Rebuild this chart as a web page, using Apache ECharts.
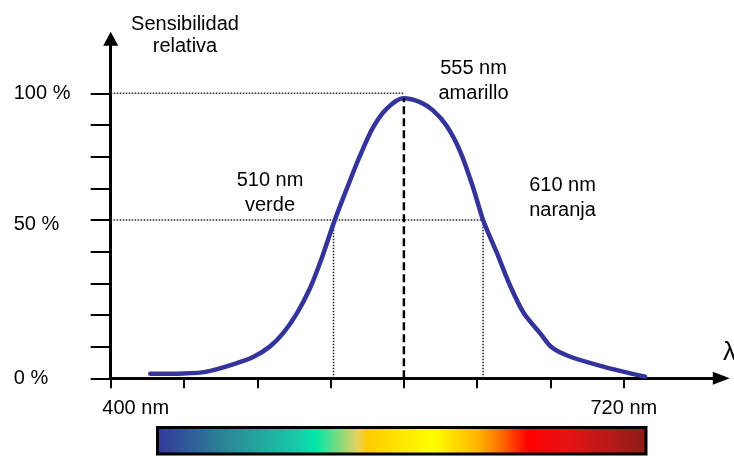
<!DOCTYPE html>
<html><head><meta charset="utf-8">
<script src="https://cdn.jsdelivr.net/npm/echarts@6/dist/echarts.min.js"></script>
<style>html,body{margin:0;padding:0;background:#fff}#c{width:734px;height:456px}</style>
</head><body><div id="c"></div>
<script>
// Schematic axes: x in tick units (tick 0 = "400 nm", tick 7 = "720 nm"),
// y in tick units (tick 0 = "0 %", tick 5 = "50 %", tick 9 = "100 %")
const wavelengthPos = [0.54, 0.99, 1.31, 1.67, 1.95, 2.17, 2.35, 2.54, 2.72, 2.88, 3.05, 3.22, 3.40, 3.58, 3.77, 3.99, 4.22, 4.40, 4.58, 4.77, 4.95, 5.08, 5.27, 5.45, 5.63, 5.86, 6.02, 6.27, 6.72, 7.29];
const sensitivity   = [0.14, 0.15, 0.21, 0.44, 0.68, 1.00, 1.42, 2.05, 2.85, 3.80, 4.95, 5.98, 7.02, 7.92, 8.52, 8.84, 8.72, 8.45, 7.98, 7.15, 5.98, 5.00, 3.95, 2.92, 2.08, 1.42, 0.97, 0.68, 0.37, 0.05];
const xTickValues = [0, 1, 2, 3, 4, 5, 6, 7];
const xLabelValues = [0, 7];
const xLabelTexts = ['400 nm', '720 nm'];
const yTickValues = [0, 1, 2, 3, 4, 5, 6, 7, 8, 9];
const yLabelValues = [0, 5, 9];
const yLabelTexts = ['0 %', '50 %', '100 %'];
const markerPos = [3.04, 4, 5.08];            // 510 nm, 555 nm, 610 nm
const markerTexts = ['510 nm\nverde', '555 nm\namarillo', '610 nm\nnaranja'];
const halfLevel = 5;
const fullLevel = 9;
const yTitle = 'Sensibilidad\nrelativa';

const FONT = "'Liberation Sans', Arial, sans-serif";
const peakValue = Math.max(...sensitivity);
const dotted = {color: '#222', width: 1.5, type: [1.5, 1.5]};

const chart = echarts.init(document.getElementById('c'), null, {renderer: 'canvas'});
chart.setOption({
  animation: false,
  backgroundColor: '#fff',
  grid: {left: 110.7, right: 12.7, top: 38.8, bottom: 77.7, containLabel: false},
  xAxis: {
    type: 'value', min: 0, max: 8.33, interval: 1,
    splitLine: {show: false},
    axisLine: {lineStyle: {color: '#000', width: 3}, symbol: ['none', 'triangle'], symbolSize: [13, 17]},
    axisTick: {show: true, inside: false, length: 10, lineStyle: {color: '#000', width: 2}, customValues: xTickValues},
    axisLabel: {
      customValues: xLabelValues, margin: 20, color: '#000', fontSize: 20, fontFamily: FONT,
      formatter: v => {
        const i = xLabelValues.indexOf(v);
        if (i < 0) return '';
        return i === 0 ? '{s|' + xLabelTexts[i] + '}' : xLabelTexts[i];
      },
      rich: {s: {padding: [0, 0, 0, 50], fontSize: 20, fontFamily: FONT, color: '#000'}}
    }
  },
  yAxis: {
    type: 'value', min: 0, max: 10.72, interval: 1,
    splitLine: {show: false},
    axisLine: {lineStyle: {color: '#000', width: 3}, symbol: ['none', 'triangle'], symbolSize: [15, 14]},
    axisTick: {show: true, inside: false, length: 20, lineStyle: {color: '#000', width: 2}, customValues: yTickValues},
    axisLabel: {
      customValues: yLabelValues, margin: 97, align: 'left', color: '#000', fontSize: 20, fontFamily: FONT,
      formatter: v => {
        const i = yLabelValues.indexOf(v);
        if (i < 0) return '';
        return i === 1 ? '{m|' + yLabelTexts[i] + '}' : yLabelTexts[i];
      },
      rich: {m: {padding: [10, 0, 0, 0], fontSize: 20, fontFamily: FONT, color: '#000'}}
    }
  },
  series: [
    {type: 'line', symbol: 'none', silent: true, z: 1, lineStyle: dotted,
     data: [[0, fullLevel], [markerPos[1], fullLevel]]},
    {type: 'line', symbol: 'none', silent: true, z: 1, lineStyle: dotted,
     data: [[0, halfLevel], [markerPos[2], halfLevel]]},
    {type: 'line', symbol: 'none', silent: true, z: 1, lineStyle: dotted,
     data: [[markerPos[0], 0], [markerPos[0], halfLevel]]},
    {type: 'line', symbol: 'none', silent: true, z: 1, lineStyle: dotted,
     data: [[markerPos[2], 0], [markerPos[2], halfLevel]]},
    {type: 'line', symbol: 'none', silent: true, z: 3, lineStyle: {color: '#000', width: 2.5, type: [8, 4]},
     data: [[markerPos[1], 0], [markerPos[1], peakValue]]},
    {type: 'line', symbol: 'none', smooth: 0.3, z: 2,
     lineStyle: {color: '#33339b', width: 4.5, cap: 'round'},
     data: wavelengthPos.map((x, i) => [x, sensitivity[i]])}
  ],
  graphic: [
    {type: 'text', x: 185, y: 13.3, style: {text: yTitle, align: 'center', verticalAlign: 'top', fontSize: 20, fontFamily: FONT, lineHeight: 22, fill: '#000'}},
    {type: 'text', x: 270, y: 167.5, style: {text: markerTexts[0], align: 'center', verticalAlign: 'top', fontSize: 20, fontFamily: FONT, lineHeight: 25, fill: '#000'}},
    {type: 'text', x: 473.5, y: 55.5, style: {text: markerTexts[1], align: 'center', verticalAlign: 'top', fontSize: 20, fontFamily: FONT, lineHeight: 25, fill: '#000'}},
    {type: 'text', x: 562.5, y: 172.5, style: {text: markerTexts[2], align: 'center', verticalAlign: 'top', fontSize: 20, fontFamily: FONT, lineHeight: 25, fill: '#000'}},
    {type: 'text', x: 723, y: 340, style: {text: 'λ', align: 'left', verticalAlign: 'top', fontSize: 26, fontFamily: FONT, fill: '#000'}},
    {type: 'rect', shape: {x: 157.5, y: 427.5, width: 488.5, height: 26.5},
     style: {stroke: '#000', lineWidth: 3,
       fill: new echarts.graphic.LinearGradient(0, 0, 1, 0, [
         {offset: 0.00, color: '#353799'},
         {offset: 0.15, color: '#2a8a98'},
         {offset: 0.29, color: '#17cca8'},
         {offset: 0.325, color: '#00e8a8'},
         {offset: 0.41, color: '#e6d060'},
         {offset: 0.43, color: '#ffcc00'},
         {offset: 0.565, color: '#ffff00'},
         {offset: 0.655, color: '#ffb400'},
         {offset: 0.70, color: '#ff7000'},
         {offset: 0.757, color: '#ff0000'},
         {offset: 0.84, color: '#e41414'},
         {offset: 1.00, color: '#8b1e18'}
       ])}}
  ]
});
</script>
</body></html>
